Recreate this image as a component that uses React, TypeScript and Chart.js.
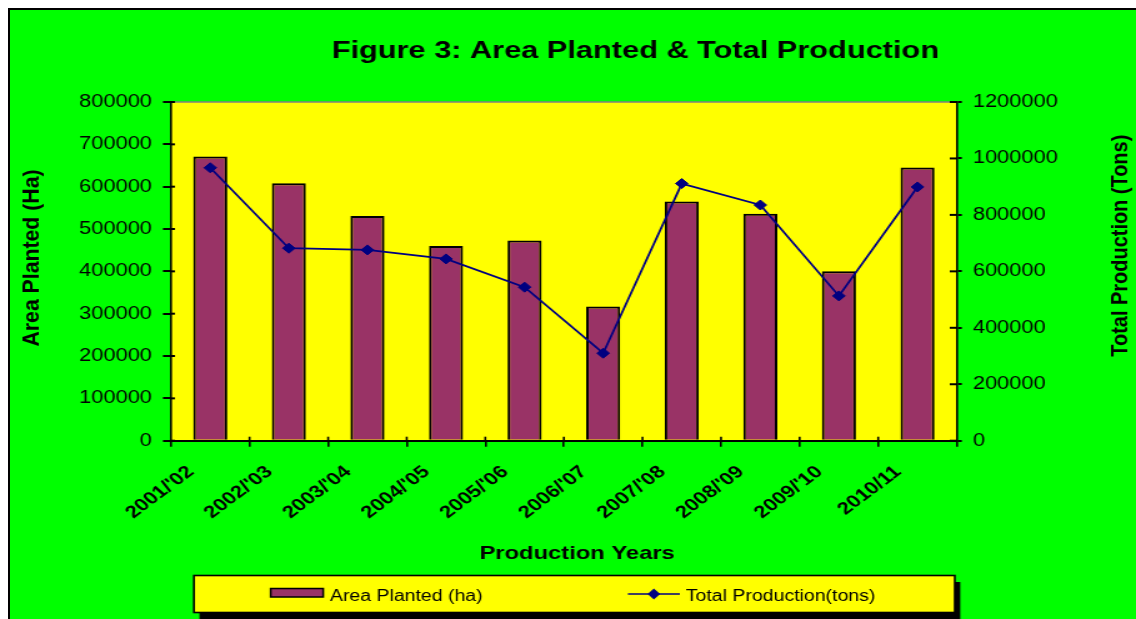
import { useEffect, useRef } from 'react';
import { Chart, registerables } from 'chart.js';

Chart.register(...registerables);

const categories = ["2001/'02", "2002/'03", "2003/'04", "2004/'05", "2005/'06", "2006/'07", "2007/'08", "2008/'09", "2009/'10", "2010/11"];
const areaPlanted = [671000, 608000, 531000, 460000, 473000, 317000, 565000, 536000, 400000, 645000];
const totalProduction = [967000, 682000, 676000, 644000, 544000, 310000, 911000, 835000, 513000, 899000];

const areaAxisMax = 800000;
const areaAxisStep = 100000;
const prodAxisMax = 1200000;
const prodAxisStep = 200000;

const chartTitle = 'Figure 3: Area Planted & Total Production';
const xTitle = 'Production Years';
const yLeftTitle = 'Area Planted (Ha)';
const yRightTitle = 'Total Production (Tons)';
const barLabel = 'Area Planted (ha)';
const lineLabel = 'Total Production(tons)';

const FONT = "'Liberation Sans', Arial, sans-serif";
const CSS_W = 1126;
const CSS_H = 609;
const STRETCH = 1.25;
const W = Math.round(CSS_W / STRETCH);
const H = CSS_H;

const GREEN = '#00FF00';
const YELLOW = '#FFFF00';
const BAR = '#993366';
const NAVY = '#000080';

const decor = {
  id: 'decor',
  beforeDraw(chart: any) {
    const { ctx, chartArea: a } = chart;
    ctx.save();
    ctx.fillStyle = GREEN;
    ctx.fillRect(0, 0, chart.width, chart.height);
    ctx.fillStyle = YELLOW;
    ctx.fillRect(a.left, a.top, a.right - a.left, a.bottom - a.top);
    ctx.strokeStyle = '#808080';
    ctx.lineWidth = 1.5;
    ctx.beginPath();
    ctx.moveTo(a.left, a.top);
    ctx.lineTo(a.right, a.top);
    ctx.stroke();
    ctx.restore();
  },
  afterDraw(chart: any) {
    const { ctx, chartArea: a, scales } = chart;
    const line = (x1: number, y1: number, x2: number, y2: number) => {
      ctx.beginPath();
      ctx.moveTo(x1, y1);
      ctx.lineTo(x2, y2);
      ctx.stroke();
    };
    ctx.save();
    ctx.strokeStyle = '#000';
    ctx.lineWidth = 2;
    for (const t of scales.y.ticks) {
      const py = scales.y.getPixelForValue(t.value);
      line(a.left, py, a.left + 3.2, py);
    }
    for (const t of scales.y1.ticks) {
      const py = scales.y1.getPixelForValue(t.value);
      line(a.right - 5.6, py, a.right, py);
    }
    ctx.lineWidth = 1.6;
    const n = categories.length;
    const half = (a.right - a.left) / n / 2;
    for (let k = 1; k < n; k++) {
      const px = scales.x.getPixelForValue(k) - half;
      line(px, a.bottom, px, a.bottom - 4);
    }

    // titles
    ctx.fillStyle = '#000';
    ctx.textAlign = 'center';
    ctx.textBaseline = 'alphabetic';
    ctx.font = `bold 24.6px ${FONT}`;
    ctx.fillText(chartTitle, 500.4, 48.3);
    ctx.font = `bold 19px ${FONT}`;
    ctx.fillText(xTitle, 453.8, 549);

    ctx.textBaseline = 'middle';
    ctx.font = `bold 18px ${FONT}`;
    ctx.save();
    ctx.translate(18.4, 248);
    ctx.rotate(-Math.PI / 2);
    ctx.scale(1.18, 1);
    ctx.fillText(yLeftTitle, 0, 0);
    ctx.restore();
    ctx.save();
    ctx.translate(888.8, 235.7);
    ctx.rotate(-Math.PI / 2);
    ctx.scale(1.108, 1);
    ctx.fillText(yRightTitle, 0, 0);
    ctx.restore();

    // legend
    const lx = 147.2, ly = 565.5, lw = 608.8, lh = 37;
    ctx.fillStyle = '#000';
    ctx.fillRect(lx + 4.4, ly + 6.5, lw, lh);
    ctx.fillStyle = YELLOW;
    ctx.fillRect(lx, ly, lw, lh);
    ctx.strokeStyle = '#000';
    ctx.lineWidth = 1.6;
    ctx.strokeRect(lx, ly, lw, lh);

    const ds0 = chart.data.datasets[0];
    const ds1 = chart.data.datasets[1];
    ctx.fillStyle = ds0.backgroundColor;
    ctx.fillRect(208.6, 578.5, 42, 8.5);
    ctx.lineWidth = 1.5;
    ctx.strokeRect(208.6, 578.5, 42, 8.5);
    ctx.fillStyle = '#000';
    ctx.textAlign = 'left';
    ctx.textBaseline = 'alphabetic';
    ctx.font = `15.6px ${FONT}`;
    ctx.fillText(ds0.label, 256, 591);

    ctx.strokeStyle = ds1.borderColor;
    ctx.lineWidth = 1.6;
    line(494.4, 584, 536, 584);
    ctx.fillStyle = ds1.backgroundColor;
    ctx.beginPath();
    ctx.moveTo(515.2 - 5, 584);
    ctx.lineTo(515.2, 584 - 5.5);
    ctx.lineTo(515.2 + 5, 584);
    ctx.lineTo(515.2, 584 + 5.5);
    ctx.closePath();
    ctx.fill();
    ctx.fillStyle = '#000';
    ctx.fillText(ds1.label, 540.8, 591);
    ctx.restore();
  },
};

export default function App() {
  const ref = useRef<HTMLCanvasElement>(null);
  useEffect(() => {
    Chart.defaults.font.family = FONT;
    Chart.defaults.color = '#000';
    const chart = new Chart(ref.current as HTMLCanvasElement, {
      type: 'bar',
      data: {
        labels: categories,
        datasets: [
          {
            type: 'bar',
            label: barLabel,
            data: areaPlanted,
            yAxisID: 'y',
            backgroundColor: BAR,
            borderColor: '#000',
            borderWidth: 2,
            barPercentage: 0.433,
            categoryPercentage: 1,
            order: 1,
          },
          {
            type: 'line',
            label: lineLabel,
            data: totalProduction,
            yAxisID: 'y1',
            borderColor: NAVY,
            backgroundColor: NAVY,
            borderWidth: 1.8,
            pointStyle: 'rectRot',
            pointRadius: 5,
            pointBorderWidth: 1,
            pointBackgroundColor: NAVY,
            pointBorderColor: NAVY,
            tension: 0,
            fill: false,
            order: 0,
          },
        ] as any,
      },
      options: {
        responsive: false,
        animation: false,
        devicePixelRatio: 1,
        layout: { padding: { top: 92, left: 0, right: 0, bottom: 0 } },
        plugins: {
          legend: { display: false },
          title: { display: false },
          tooltip: { enabled: false },
        },
        scales: {
          x: {
            offset: true,
            grid: { offset: true, drawOnChartArea: false, drawTicks: true, tickLength: 6, color: '#000', lineWidth: 1.6 },
            border: { display: true, color: '#000', width: 2, z: 1 },
            ticks: {
              autoSkip: false,
              minRotation: 43,
              maxRotation: 43,
              color: '#000',
              font: { size: 17.5, weight: 'bold' },
              padding: 15,
              labelOffset: -15.5,
            },
            afterFit: (s: any) => { s.height = H - 430.7; },
          },
          y: {
            position: 'left',
            min: 0,
            max: areaAxisMax,
            ticks: { stepSize: areaAxisStep, color: '#000', font: { size: 17.5 }, padding: 8.8, callback: (v: any) => String(v) },
            grid: { drawOnChartArea: false, tickLength: 6.4, color: '#000', lineWidth: 2 },
            border: { display: true, color: '#000', width: 1.6, z: 1 },
            afterFit: (s: any) => { s.width = 128.8; },
          },
          y1: {
            position: 'right',
            min: 0,
            max: prodAxisMax,
            ticks: { stepSize: prodAxisStep, color: '#000', font: { size: 17.5 }, padding: 8.8, callback: (v: any) => String(v) },
            grid: { drawOnChartArea: false, tickLength: 4, color: '#000', lineWidth: 2 },
            border: { display: true, color: '#000', width: 1.6, z: 1 },
            afterFit: (s: any) => { s.width = W - 757.6; },
          },
        },
      } as any,
      plugins: [decor],
    });
    return () => chart.destroy();
  }, []);

  return (
    <>
      <style>{'html,body{overflow:hidden;margin:0;padding:0}'}</style>
      <div
        style={{
          position: 'fixed',
          left: 8,
          top: 8,
          width: CSS_W + 2,
          height: CSS_H + 2,
          boxSizing: 'border-box',
          borderLeft: '2px solid #000',
          borderTop: '2px solid #000',
          background: GREEN,
          overflow: 'hidden',
        }}
      >
        <canvas ref={ref} width={W} height={H} style={{ width: `${CSS_W}px`, height: `${CSS_H}px`, display: 'block' }} />
      </div>
    </>
  );
}
